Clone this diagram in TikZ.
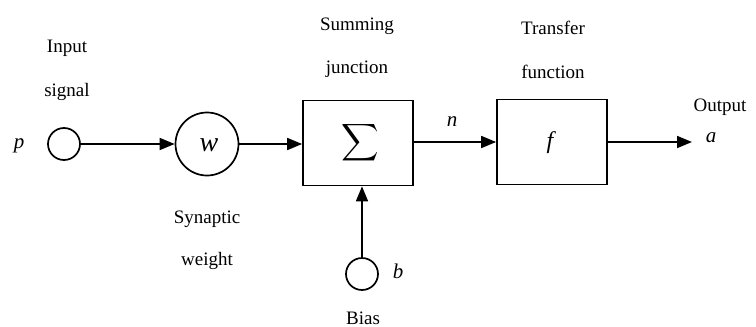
\documentclass[tikz,border=0pt]{standalone}
\usepackage{fontspec}
\setmainfont{Liberation Serif}
\usepackage{graphicx}
\usetikzlibrary{arrows.meta}
\begin{document}
\begin{tikzpicture}[x=1pt,y=-1pt,
  lbl/.style={font=\fontsize{19}{21}\selectfont, inner sep=0pt},
  var/.style={font=\fontsize{21}{23}\selectfont\itshape, inner sep=0pt},
  circ/.style={draw, circle, line width=1.7pt, inner sep=0pt},
  blk/.style={draw, line width=1.7pt, minimum width=110pt, minimum height=85pt, inner sep=0pt},
  conn/.style={line width=1.7pt, -{Triangle[length=15pt,width=12pt]}}]
\useasboundingbox (0,0) rectangle (756,327);
\node[circ, minimum size=32pt] (pc) at (64,144) {};
\node[var] (p) at (19,146) {p};
\node[circ, minimum size=63pt] (wc) at (207,144) {};
\node[var, font=\fontsize{28}{30}\selectfont\itshape] (w) at (209,145) {w};
\node[blk] (sum) at (358,143) {};
\node[inner sep=0pt] (sig) at (360,143) {\scalebox{2.6}{$\displaystyle\sum$}};
\node[blk] (fb) at (552,142) {};
\node[var, font=\fontsize{24}{26}\selectfont\itshape] (f) at (550,143) {f};
\coordinate (out) at (692,142);
\node[var] (a) at (711,138) {a};
\node[var] (n) at (452,122) {n};
\node[circ, minimum size=32pt] (bc) at (362,274) {};
\node[var] (b) at (398,271) {b};
\node[lbl] (l1) at (67,48) {Input};
\node[lbl] (l2) at (67,92) {signal};
\node[lbl] (l3) at (357,26) {Summing};
\node[lbl] (l4) at (357,69) {junction};
\node[lbl] (l5) at (553,28) {Transfer};
\node[lbl] (l6) at (553,72) {function};
\node[lbl] (l7) at (720,107) {Output};
\node[lbl] (l8) at (207,219) {Synaptic};
\node[lbl] (l9) at (207,261) {weight};
\node[lbl] (l10) at (363,318) {Bias};
\draw[conn] (pc) -- (wc);
\draw[conn] (wc) -- (wc -| sum.west);
\draw[conn] (sum.east |- fb) -- (fb.west);
\draw[conn] (fb.east) -- (out);
\draw[conn] (bc) -- (bc |- sum.south);
\end{tikzpicture}
\end{document}
